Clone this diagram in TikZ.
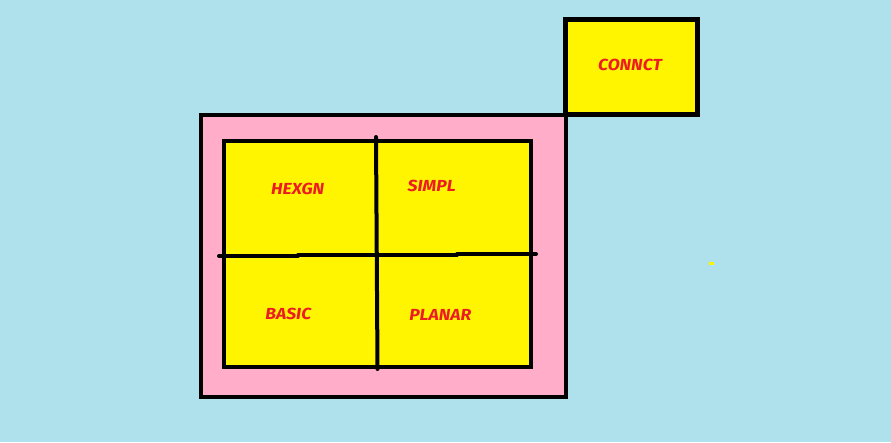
\documentclass[tikz,border=0pt]{standalone}
\usepackage{fontspec}
\setmainfont{Fira Sans}
\definecolor{bgblue}{HTML}{AFE1ED}
\definecolor{pinkfill}{HTML}{FFADC9}
\definecolor{yelfill}{HTML}{FFF500}
\definecolor{redtxt}{HTML}{ED1C24}
\begin{document}
\begin{tikzpicture}[x=1pt,y=-1pt,
  panel/.style={draw=black,rectangle,inner sep=0pt,outer sep=0pt},
  lbl/.style={text=redtxt,font=\fontsize{16}{16}\selectfont\bfseries\itshape,inner sep=0pt,xscale=1.1},
  divider/.style={draw=black,line width=4pt,line cap=round}]
\fill[bgblue] (0,0) rectangle (891,442);
\useasboundingbox (0,0) rectangle (891,442);
% outer pink frame
\node[panel,fill=pinkfill,line width=4pt,minimum width=365pt,minimum height=282pt] (outer) at (383.5,256) {};
% inner yellow grid
\node[panel,fill=yelfill,line width=4pt,minimum width=307pt,minimum height=226pt] (inner) at (377.5,254) {};
% connect box
\node[panel,fill=yelfill,line width=5pt,minimum width=131.5pt,minimum height=95.5pt] (conn) at (631.25,66.75) {};
% dividers
\coordinate (vt) at (376,137);
\coordinate (vb) at (377.5,369);
\draw[divider] (vt) -- (vb);
\coordinate (h1) at (219,256);
\coordinate (h2) at (298,256);
\coordinate (h3) at (298,255);
\coordinate (h4) at (457,255);
\coordinate (h5) at (457,254);
\coordinate (h6) at (536,254);
\draw[divider] (h1) -- (h2);
\draw[divider] (h3) -- (h4);
\draw[divider] (h5) -- (h6);
% labels
\node[lbl] (hexgn) at (297.7,188.7) {HEXGN};
\node[lbl] (simpl) at (431.7,185.5) {SIMPL};
\node[lbl] (basic) at (288.3,314.3) {BASIC};
\node[lbl] (planar) at (440.3,315.3) {PLANAR};
\node[lbl] (connct) at (630,65.3) {CONNCT};
% small yellow dot
\fill[yelfill] (709,261.5) rectangle (713.5,264.5);
\end{tikzpicture}
\end{document}
